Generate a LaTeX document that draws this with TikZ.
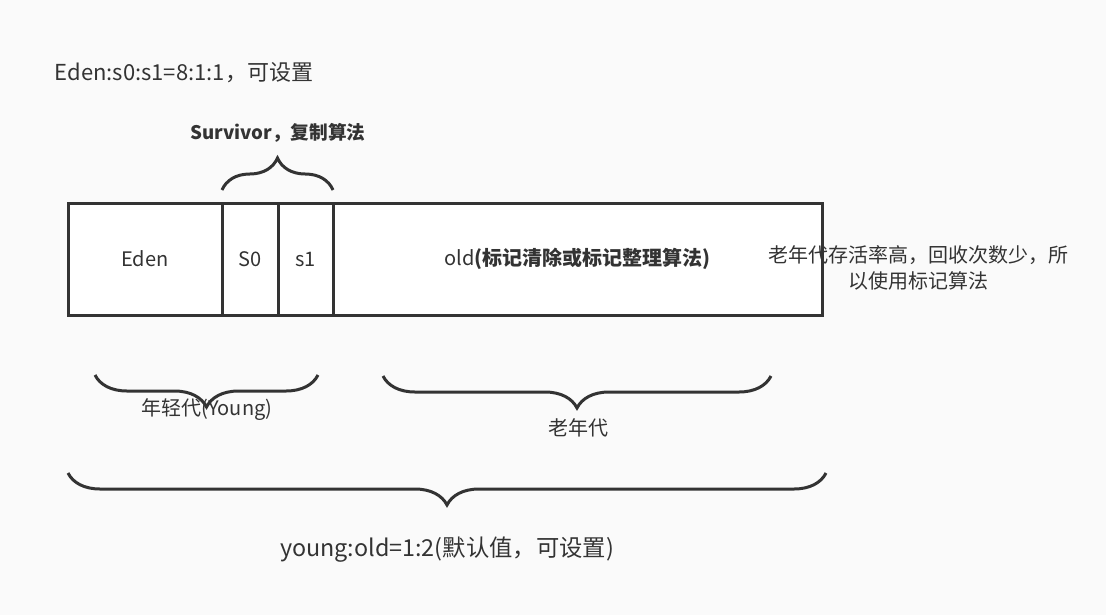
\documentclass[tikz,border=0pt]{standalone}
\usepackage{fontspec}
\setmainfont{Noto Sans CJK SC}
\usetikzlibrary{positioning, decorations.pathreplacing}
\definecolor{bggray}{RGB}{250,250,250}
\definecolor{inkgray}{RGB}{51,51,51}

\begin{document}
\begin{tikzpicture}[
  x=0.75pt, y=-0.75pt,
  cell/.style={draw=inkgray, fill=white, line width=2.25pt, outer sep=0pt,
               minimum height=84pt, font=\fontsize{15}{18}\selectfont, text=inkgray},
  brc/.style={decorate, decoration={brace, amplitude=24pt}, draw=inkgray, line width=2.25pt},
  lbl/.style={font=\fontsize{15}{19.5}\selectfont, text=inkgray, align=center}
]
  \fill[bggray] (0,0) rectangle (1106,615);
  \useasboundingbox (0,0) rectangle (1106,615);

  % heap regions
  \node[cell, minimum width=115.5pt, anchor=north west] (eden) at (68,203) {Eden};
  \node[cell, minimum width=42pt, right=0pt of eden] (s0) {S0};
  \node[cell, minimum width=41.25pt, right=0pt of s0] (s1) {s1};
  \node[cell, minimum width=366.75pt, right=0pt of s1] (old) {old{\bfseries(标记清除或标记整理算法)}};

  % braces
  \draw[brc] ([yshift=9.75pt]s0.north west) -- ([yshift=9.75pt]s1.north east);
  \draw[brc] (318,375) -- (95,375);
  \draw[brc] (771,376) -- (383,376);
  \draw[brc] (826,473) -- (68,473);

  % labels
  \node[lbl, font=\fontsize{16.5}{20}\selectfont, anchor=west] (ratio) at (50,73) {Eden:s0:s1=8:1:1，可设置};
  \node[lbl, font=\fontsize{14}{17}\selectfont\bfseries] (surv) at (278,133) {Survivor，复制算法};
  \node[lbl] (young) at (207,410) {年轻代(Young)};
  \node[lbl] (tenured) at (578,428) {老年代};
  \node[lbl, font=\fontsize{17.5}{21}\selectfont] (split) at (447,550) {young:old=1:2(默认值，可设置)};
  \node[lbl] (note) at (918,268) {老年代存活率高，回收次数少，所\\以使用标记算法};
\end{tikzpicture}
\end{document}
